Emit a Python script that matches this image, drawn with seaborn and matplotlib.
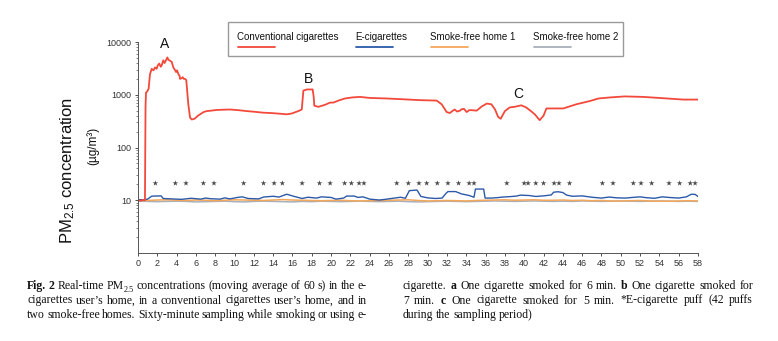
import numpy as np
import pandas as pd
import matplotlib
matplotlib.use("Agg")
import matplotlib.pyplot as plt
import seaborn as sns
from matplotlib.lines import Line2D
from matplotlib.patches import Rectangle
from matplotlib.ticker import LogLocator, NullFormatter, FixedLocator

# ---------------- data ----------------
conv_t = [0, 0.3, 0.6, 0.72, 0.78, 0.83, 0.95, 1.1, 1.24, 1.42, 1.6, 1.76, 1.93, 2.05, 2.2, 2.35,
          2.45, 2.62, 2.75, 2.9, 3.04, 3.15, 3.25, 3.4, 3.49, 3.66, 3.8, 3.94, 4.05, 4.18, 4.3,
          4.35, 4.5, 4.63, 4.75, 4.87, 5.0, 5.21, 5.39, 5.56, 5.75, 5.9, 6.2, 6.42, 6.8, 7.11,
          7.6, 8.15, 8.8, 9.55, 10.4, 11.26, 12.1, 12.98, 13.8, 14.7, 15.4, 15.9, 16.6, 16.96,
          17.13, 17.5, 18.09, 18.2, 18.26, 18.68, 19.37, 19.89, 20.23, 20.8, 21.44, 22.2, 23.0,
          24.0, 25.76, 27.5, 29.2, 30.94, 31.45, 31.97, 32.3, 32.55, 32.8, 33.05, 33.35, 33.5,
          33.76, 34.04, 34.3, 34.56, 35.08, 35.6, 36.12, 36.6, 36.98, 37.3, 37.56, 38.0, 38.5,
          39.0, 39.7, 40.2, 40.7, 41.1, 41.6, 42.0, 42.3, 42.7, 44.05, 45.4, 46.8, 47.7, 48.9,
          50.4, 52.35, 54.8, 56.5, 58.0]
conv_v = [10, 9.8, 10.2, 10, 600, 1100, 1150, 1300, 2450, 3100, 2900, 3300, 3100, 3600, 3900, 3400,
          3600, 4500, 4000, 4500, 5100, 4600, 4500, 4300, 4200, 3300, 3000, 2700, 2900, 2450, 2300,
          2000, 2050, 2150, 2000, 2000, 1900, 660, 370, 340, 345, 355, 400, 425, 470, 490,
          500, 515, 520, 525, 510, 490, 475, 457, 450, 437, 426, 440, 490, 525,
          1200, 1260, 1260, 900, 620, 590, 645, 710, 710, 780, 850, 890, 910,
          870, 850, 820, 790, 775, 660, 470, 450, 490, 525, 480, 500, 530,
          540, 470, 510, 510, 500, 600, 680, 660, 525, 380, 350, 490, 575,
          590, 630, 575, 490, 425, 330, 400, 550, 550, 550, 660, 760, 850, 890,
          930, 910, 850, 810, 810]

ecig_t = [0, 0.5, 1.0, 1.4, 1.6, 2.4, 2.6, 3.5, 4.5, 5.5, 6.5, 7, 7.5, 8.5, 9, 9.5, 10.3, 10.8,
          11.4, 12.5, 13.0, 14.0, 14.6, 15.4, 16.2, 17.0, 17.6, 18.5, 19.0, 20.0, 20.5, 21.3,
          21.6, 22.4, 22.8, 23.3, 24, 25, 25.6, 26.4, 27.2, 27.7, 28.1, 28.9, 29.3, 30.0, 30.8,
          31.5, 31.9, 32.1, 32.9, 33.5, 34.3, 34.8, 34.95, 35.8, 35.95, 36.6, 37.2, 37.8, 38.5,
          39.2, 39.6, 40.5, 41.2, 42.0, 42.8, 43.05, 43.5, 44.0, 44.4, 45.0, 46.0, 47.0, 48.0,
          48.8, 49.6, 50.5, 51.2, 52.0, 52.6, 53.5, 54.3, 55.0, 56.0, 56.8, 57.3, 57.7, 58.0]
ecig_v = [10.3, 10.2, 10.5, 11.9, 12.0, 12.1, 10.8, 10.6, 10.4, 10.9, 10.5, 11.0, 10.7, 10.5, 11.1,
          10.6, 11.3, 11.6, 10.8, 10.6, 11.5, 11.9, 11.5, 13.0, 11.8, 10.8, 11.4, 11.0, 11.6, 11.3,
          10.5, 11.0, 12.0, 12.0, 11.3, 11.6, 10.5, 10.1, 10.4, 10.9, 11.4, 10.9, 15.2, 15.6, 11.8,
          11.1, 10.8, 11.0, 13.5, 14.6, 14.6, 13.2, 12.3, 11.4, 16.3, 16.3, 11.0, 11.0, 11.2, 11.5,
          11.7, 12.0, 12.5, 12.3, 11.8, 12.1, 12.6, 14.2, 14.5, 14.0, 12.5, 11.9, 12.1, 11.4, 11.0,
          11.5, 11.1, 11.0, 11.3, 11.6, 11.2, 10.9, 11.6, 11.3, 11.0, 11.6, 13.0, 12.9, 11.8]

minutes = list(range(0, 59))
home1_v = [10.0, 9.9, 10.1, 10.2, 10.0, 9.9, 10.1, 10.0, 9.8, 10.0, 10.2, 10.1, 10.0, 9.9, 10.1,
           10.3, 10.1, 10.0, 9.9, 9.8, 9.9, 10.0, 9.8, 9.7, 9.8, 9.9, 10.0, 10.1, 10.2, 9.9, 9.7,
           9.8, 9.9, 9.8, 9.7, 9.9, 10.0, 10.1, 10.2, 10.0, 10.1, 10.2, 10.0, 10.0, 10.1, 9.9,
           10.0, 9.8, 9.9, 9.7, 9.6, 9.8, 9.9, 9.7, 9.6, 9.6, 9.7, 9.8, 9.7]
home2_v = [9.6, 9.5, 9.4, 9.5, 9.6, 9.5, 9.3, 9.4, 9.5, 9.6, 9.4, 9.3, 9.5, 9.6, 9.5, 9.4, 9.3,
           9.5, 9.4, 9.6, 9.5, 9.4, 9.5, 9.6, 9.5, 9.4, 9.5, 9.6, 9.4, 9.3, 9.4, 9.5, 9.6, 9.5,
           9.4, 9.5, 9.6, 9.7, 9.6, 9.5, 9.6, 9.7, 9.6, 9.5, 9.6, 9.5, 9.7, 9.6, 9.5, 9.6, 9.7,
           9.6, 9.5, 9.6, 9.7, 9.6, 9.5, 9.6, 9.5]

puff_t = [1.8, 3.87, 4.97, 6.77, 7.87, 10.94, 13.0, 14.1, 14.95, 17.0, 18.8, 19.9, 21.4, 22.1,
          22.9, 23.4, 26.8, 28.0, 29.1, 29.9, 31.0, 32.1, 33.2, 34.3, 34.8, 38.2, 40.0, 40.4,
          41.2, 42.0, 43.1, 43.6, 44.7, 48.1, 49.2, 51.3, 52.1, 53.2, 55.0, 56.1, 57.2, 57.7]
puff_level = 21

labels = ["Conventional cigarettes", "E-cigarettes", "Smoke-free home 1", "Smoke-free home 2"]
colors = ["#f2493b", "#2c5aa8", "#f4a75a", "#a9b0b8"]
x_ticks = list(range(0, 59, 2))
y_ticks = [10, 100, 1000, 10000]
annot = [("A", 2.8, 9100), ("B", 17.7, 1950), ("C", 39.4, 1050)]

# ---------------- figure ----------------
sns.set_style("ticks")
plt.rcParams["font.family"] = ["Liberation Sans", "DejaVu Sans"]
plt.rcParams["mathtext.fontset"] = "custom"
plt.rcParams["mathtext.rm"] = "Liberation Sans"
plt.rcParams["mathtext.it"] = "Liberation Sans:italic"
plt.rcParams["mathtext.bf"] = "Liberation Sans:bold"

W, H = 778, 341
fig = plt.figure(figsize=(W / 100, H / 100), dpi=100)
fig.patch.set_facecolor("white")
ax = fig.add_axes([138 / W, 1 - 253 / H, 560 / W, (253 - 42) / H])
ax.set_facecolor("white")

df_conv = pd.DataFrame({"t": conv_t, "v": conv_v})
df_ecig = pd.DataFrame({"t": ecig_t, "v": ecig_v})
df_h1 = pd.DataFrame({"t": minutes, "v": home1_v})
df_h2 = pd.DataFrame({"t": minutes, "v": home2_v})

sns.lineplot(data=df_h2, x="t", y="v", ax=ax, color=colors[3], lw=1.1, estimator=None, sort=False)
sns.lineplot(data=df_h1, x="t", y="v", ax=ax, color=colors[2], lw=1.1, estimator=None, sort=False)
sns.lineplot(data=df_ecig, x="t", y="v", ax=ax, color=colors[1], lw=1.0, estimator=None, sort=False)
sns.lineplot(data=df_conv, x="t", y="v", ax=ax, color=colors[0], lw=1.3, estimator=None, sort=False)
sns.scatterplot(x=puff_t, y=[puff_level] * len(puff_t), ax=ax, marker="*", s=18,
                color="#4a4a4a", edgecolor="none", linewidth=0)

ax.set_yscale("log")
ax.set_ylim(1, 10000)
ax.set_xlim(0, 58)
ax.yaxis.set_major_locator(FixedLocator(y_ticks))
ax.set_yticklabels([str(v) for v in y_ticks])
ax.yaxis.set_minor_locator(LogLocator(base=10, subs=np.arange(2, 10)))
ax.yaxis.set_minor_formatter(NullFormatter())
ax.set_xticks(x_ticks)
ax.set_xticklabels([str(v) for v in x_ticks])
ax.tick_params(axis="both", labelsize=6.5, colors="#333333", width=0.6, length=2.5, pad=2)
ax.tick_params(axis="y", which="minor", width=0.5, length=1.5, colors="#555555")
ax.set_xlabel("")
ax.set_ylabel("")
sns.despine(ax=ax)
for s in ["left", "bottom"]:
    ax.spines[s].set_color("#555555")
    ax.spines[s].set_linewidth(0.7)

for letter, xv, yv in annot:
    ax.text(xv, yv, letter, ha="center", va="center", fontsize=10, color="#111111")

# y label
fig.text(68 / W, 1 - 170 / H, "PM$_{2.5}$ concentration", rotation=90, ha="center",
         va="center", fontsize=12, color="#111111")
fig.text(93 / W, 1 - 146 / H, "(\u00b5g/m\u00b3)", rotation=90, ha="center", va="center",
         fontsize=8.5, color="#111111")

# legend box (text above line sample)
fig.patches.append(Rectangle((228 / W, 1 - 56 / H), (623 - 228) / W, (56 - 22) / H,
                             transform=fig.transFigure, facecolor="white",
                             edgecolor="#9a9a9a", linewidth=1.0))
leg_x = [237, 355, 430, 533]
for lab, c, lx in zip(labels, colors, leg_x):
    fig.text(lx / W, 1 - 37 / H, lab, ha="left", va="center", fontsize=7, color="#111111")
    fig.lines.append(Line2D([(lx + 1) / W, (lx + 38) / W], [1 - 47 / H, 1 - 47 / H],
                            transform=fig.transFigure, color=c, lw=1.3))

# caption (justified, serif)
renderer = fig.canvas.get_renderer()
SERIF = "Liberation Serif"
FS = 8.45


def make_words(segments):
    words = []
    for seg in segments:
        if seg[0] == "sub":
            words[-1].append((seg[1], "normal", FS * 0.7, -2.5))
            continue
        text, wt = seg
        for i, w in enumerate(text.split(" ")):
            if w == "":
                continue
            if i == 0 and not text.startswith(" ") and words:
                words[-1].append((w, wt, FS, 0))
            else:
                words.append([(w, wt, FS, 0)])
    return words


def place_line(segments, x0, x1, yb, justify=True):
    words = make_words(segments)
    objs = []
    total = 0
    for w in words:
        pieces = []
        for (s, wt, sz, dy) in w:
            t = fig.text(0, 0, s, fontsize=sz, fontweight=wt, family=SERIF,
                         va="baseline", ha="left", color="#111111")
            wd = t.get_window_extent(renderer).width
            pieces.append((t, wd, dy))
            total += wd
        objs.append(pieces)
    gap = (x1 - x0 - total) / (len(objs) - 1) if justify else 2.8
    gap = max(gap, 1.8)
    x = x0
    for pieces in objs:
        for t, wd, dy in pieces:
            t.set_position((x / W, 1 - (yb - dy) / H))
            x += wd
        x += gap


lx0, lx1 = 27, 367
rx0, rx1 = 403, 753
base = [289, 303.5, 318]
place_line([("Fig. 2", "bold"), (" Real-time PM", "normal"), ("sub", "2.5"),
            (" concentrations (moving average of 60 s) in the e-", "normal")], lx0, lx1, base[0])
place_line([("cigarettes user\u2019s home, in a conventional cigarettes user\u2019s home, and in", "normal")],
           lx0, lx1, base[1])
place_line([("two smoke-free homes. Sixty-minute sampling while smoking or using e-", "normal")],
           lx0, lx1, base[2])
place_line([("cigarette.", "normal"), (" a", "bold"), (" One cigarette smoked for 6 min.", "normal"),
            (" b", "bold"), (" One cigarette smoked for", "normal")], rx0, rx1, base[0])
place_line([("7 min.", "normal"), (" c", "bold"),
            (" One cigarette smoked for 5 min. *E-cigarette puff (42 puffs", "normal")],
           rx0, rx1, base[1])
place_line([("during the sampling period)", "normal")], rx0, rx1, base[2], justify=False)

fig.savefig("out.png", dpi=100, facecolor="white")
